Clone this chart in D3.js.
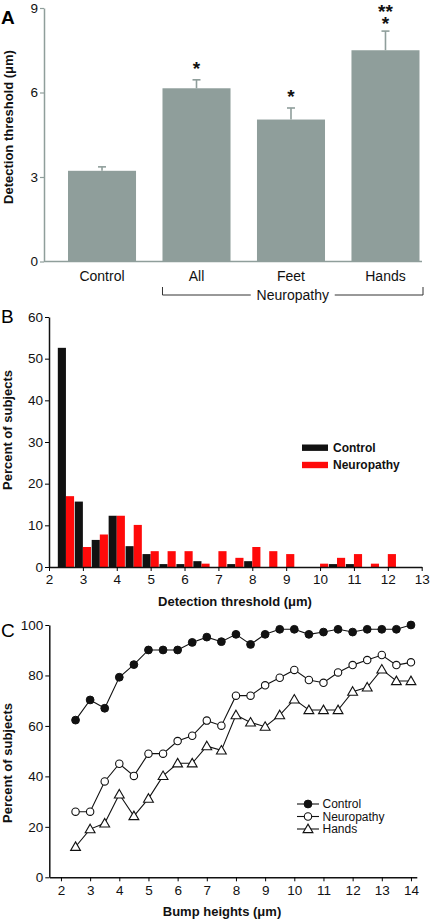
<!DOCTYPE html>
<html><head><meta charset="utf-8">
<script src="https://cdn.jsdelivr.net/npm/d3@7"></script>
<style>
html,body{margin:0;padding:0;background:#fff;}
svg{display:block;font-family:"Liberation Sans",Arial,sans-serif;}
</style></head>
<body><svg id="c" width="430" height="919"></svg>
<script>
// ---------- Panel A data ----------
const catsA = ["Control","All","Feet","Hands"];
const meanA = [3.22, 6.15, 5.04, 7.5];
const errTopA = [3.36, 6.45, 5.45, 8.18];
const starsA = [[], ["*"], ["*"], ["*","**"]];
const groupLabelA = "Neuropathy";
const ticksA = [0,3,6,9];

// ---------- Panel B data ----------
const binsB = [2.5,3,3.5,4,4.5,5,5.5,6,6.5,7,7.5,8,8.5,9,9.5,10,10.5,11,11.5,12];
const controlB = [52.6,15.7,6.5,12.3,5.0,3.1,0.7,0.7,1.4,0,0.7,1.4,0,0,0,0,0.7,0.7,0,0];
const neuroB   = [17.0,4.8,7.8,12.3,10.1,3.8,3.8,3.8,0.8,3.8,2.2,4.8,3.8,3.1,0,0.8,2.2,3.1,0.8,3.1];
const seriesB = ["Control","Neuropathy"];
const ticksBx = [2,3,4,5,6,7,8,9,10,11,12,13];
const ticksBy = [0,10,20,30,40,50,60];

// ---------- Panel C data ----------
const bumpC = [2.5,3,3.5,4,4.5,5,5.5,6,6.5,7,7.5,8,8.5,9,9.5,10,10.5,11,11.5,12,12.5,13,13.5,14];
const controlC = [62.3,70.3,67.0,79.3,84.3,90.1,90.1,90.1,93.1,95.2,93.4,96.3,92.3,96.3,98.3,98.3,96.3,97.2,98.3,97.2,98.3,98.3,98.3,100];
const neuroC   = [26.0,26.0,38.0,45.0,40.2,49.0,49.0,54.0,56.1,62.1,60.1,72.0,72.0,76.1,79.1,82.2,78.2,77.1,81.2,84.1,86.1,88.1,84.1,85.2];
const handsC   = [12.1,19.1,21.4,32.9,24.3,31.2,40.2,45.2,45.2,52.0,50.3,64.3,61.4,59.7,64.3,70.5,66.3,66.3,66.3,73.6,75.3,82.4,77.8,77.8];
const seriesC = ["Control","Neuropathy","Hands"];
const ticksCx = [2,3,4,5,6,7,8,9,10,11,12,13,14];
const ticksCy = [0,20,40,60,80,100];

const svg = d3.select("#c");
const GREY = "#8f9e9b";
const RED = "#ff0a0a";

// ===================== PANEL A =====================
const gA = svg.append("g");
const yA = d3.scaleLinear().domain([0,9]).range([261.5, 8]);
const xA = d3.scaleBand().domain(catsA).range([68, 419.5]).paddingInner(0.28).paddingOuter(0);

gA.append("g").attr("transform","translate(44,0)")
  .call(d3.axisLeft(yA).tickValues(ticksA).tickSize(4).tickSizeOuter(0).tickPadding(2))
  .call(g=>{g.select(".domain").attr("stroke",GREY).attr("stroke-width",1.5);
            g.selectAll(".tick line").attr("stroke",GREY).attr("stroke-width",1.2);
            g.selectAll("text").attr("font-size",13.5).attr("fill","#111").attr("font-family","Liberation Sans, Arial");});
// x baseline
gA.append("line").attr("x1",44).attr("x2",422).attr("y1",yA(0)).attr("y2",yA(0))
  .attr("stroke",GREY).attr("stroke-width",1.5);

gA.selectAll("rect.bar").data(catsA).join("rect").attr("class","bar")
  .attr("x",d=>xA(d)).attr("width",xA.bandwidth())
  .attr("y",(d,i)=>yA(meanA[i])).attr("height",(d,i)=>yA(0)-yA(meanA[i]))
  .attr("fill",GREY);
// error bars
catsA.forEach((c,i)=>{
  const cx = xA(c)+xA.bandwidth()/2;
  gA.append("line").attr("x1",cx).attr("x2",cx).attr("y1",yA(meanA[i])).attr("y2",yA(errTopA[i]))
    .attr("stroke",GREY).attr("stroke-width",1.6);
  gA.append("line").attr("x1",cx-4).attr("x2",cx+4).attr("y1",yA(errTopA[i])).attr("y2",yA(errTopA[i]))
    .attr("stroke",GREY).attr("stroke-width",1.6);
  if (starsA[i].length) {
    const t = gA.append("text").attr("text-anchor","middle").attr("font-size",19)
      .attr("font-weight","bold").attr("fill","#111");
    const base = yA(errTopA[i]) - (starsA[i].length > 1 ? 1.5 : 5);
    starsA[i].slice().reverse().forEach((s,k,arr)=>{
      t.append("tspan").attr("x",cx).attr("y",base - (arr.length-1-k)*11.5).text(s);
    });
  }
  gA.append("text").attr("x",cx).attr("y",281).attr("text-anchor","middle")
    .attr("font-size",14).attr("fill","#111").text(c);
});
// bracket
const bx1 = xA("All"), bx2 = 423, by = 295;
const bmid = (bx1+bx2)/2;
gA.append("path").attr("d",`M${bx1},${by-8}V${by}H${bmid-42}M${bmid+42},${by}H${bx2}V${by-8}`)
  .attr("fill","none").attr("stroke","#333").attr("stroke-width",1);
gA.append("text").attr("x",bmid).attr("y",by+5).attr("text-anchor","middle")
  .attr("font-size",14).attr("fill","#111").text(groupLabelA);
gA.append("text").attr("transform",`translate(13,127) rotate(-90)`).attr("text-anchor","middle")
  .attr("font-size",13).attr("font-weight","bold").attr("fill","#111").text("Detection threshold (μm)");
svg.append("text").attr("x",1).attr("y",24).attr("font-size",19).attr("font-weight","bold").text("A");

// ===================== PANEL B =====================
const gB = svg.append("g");
const xB = d3.scaleLinear().domain([2,13]).range([49, 421.7]);
const yB = d3.scaleLinear().domain([0,60]).range([567, 317]);
const bw = 0.24;
gB.selectAll("rect.c").data(binsB).join("rect").attr("class","c")
  .attr("x",d=>xB(d-bw)).attr("width",d=>xB(d)-xB(d-bw))
  .attr("y",(d,i)=>yB(controlB[i])).attr("height",(d,i)=>yB(0)-yB(controlB[i]))
  .attr("fill","#111");
gB.selectAll("rect.n").data(binsB).join("rect").attr("class","n")
  .attr("x",d=>xB(d)).attr("width",d=>xB(d+bw)-xB(d))
  .attr("y",(d,i)=>yB(neuroB[i])).attr("height",(d,i)=>yB(0)-yB(neuroB[i]))
  .attr("fill",RED);
gB.append("g").attr("transform",`translate(0,${yB(0)})`)
  .call(d3.axisBottom(xB).tickValues(ticksBx).tickSize(4).tickSizeOuter(0).tickPadding(3))
  .call(g=>{g.select(".domain").attr("stroke","#111").attr("stroke-width",1.5);
            g.selectAll("text").attr("font-size",13.5).attr("fill","#111").attr("font-family","Liberation Sans, Arial");});
gB.append("g").attr("transform",`translate(49,0)`)
  .call(d3.axisLeft(yB).tickValues(ticksBy).tickSize(4).tickSizeOuter(0).tickPadding(2))
  .call(g=>{g.select(".domain").attr("stroke","#111").attr("stroke-width",1.5);
            g.selectAll("text").attr("font-size",13.5).attr("fill","#111").attr("font-family","Liberation Sans, Arial");});
gB.append("text").attr("x",235).attr("y",606).attr("text-anchor","middle")
  .attr("font-size",13).attr("font-weight","bold").attr("fill","#111").text("Detection threshold (μm)");
gB.append("text").attr("transform",`translate(12,430) rotate(-90)`).attr("text-anchor","middle")
  .attr("font-size",13).attr("font-weight","bold").attr("fill","#111").text("Percent of subjects");
svg.append("text").attr("x",1).attr("y",323).attr("font-size",19).text("B");
// legend B
const legColB = ["#111", RED];
seriesB.forEach((s,i)=>{
  const ly = 447.7 + i*17.3;
  gB.append("rect").attr("x",302).attr("y",ly-3.2).attr("width",26).attr("height",6.4).attr("fill",legColB[i]);
  gB.append("text").attr("x",333).attr("y",ly+4.3).attr("font-size",12).attr("font-weight","bold").attr("fill","#111").text(s);
});

// ===================== PANEL C =====================
const gC = svg.append("g");
const xC = d3.scaleLinear().domain([1.6,14.2]).range([49.3,416.8]);
const yC = d3.scaleLinear().domain([0,100]).range([877.3, 625]);
gC.append("g").attr("transform",`translate(0,${yC(0)})`)
  .call(d3.axisBottom(xC).tickValues(ticksCx).tickSize(4).tickSizeOuter(0).tickPadding(4))
  .call(g=>{g.select(".domain").attr("stroke","#111").attr("stroke-width",1.5);
            g.selectAll("text").attr("font-size",13.5).attr("fill","#111").attr("font-family","Liberation Sans, Arial");});
gC.append("g").attr("transform",`translate(49.3,0)`)
  .call(d3.axisLeft(yC).tickValues(ticksCy).tickSize(4).tickSizeOuter(0).tickPadding(2))
  .call(g=>{g.select(".domain").attr("stroke","#111").attr("stroke-width",1.5);
            g.selectAll("text").attr("font-size",13.5).attr("fill","#111").attr("font-family","Liberation Sans, Arial");});

const line = vals => d3.line().x((d,i)=>xC(bumpC[i])).y(d=>yC(d))(vals);
const seriesValsC = [controlC, neuroC, handsC];
const tri = d3.symbol().type(d3.symbolTriangle).size(42);
function marker(g, kind, x, y){
  if(kind===0) g.append("circle").attr("cx",x).attr("cy",y).attr("r",3.9).attr("fill","#111").attr("stroke","#111");
  else if(kind===1) g.append("circle").attr("cx",x).attr("cy",y).attr("r",3.7).attr("fill","#fff").attr("stroke","#111").attr("stroke-width",1.1);
  else g.append("path").attr("d",tri()).attr("transform",`translate(${x},${y+0.8})`).attr("fill","#fff").attr("stroke","#111").attr("stroke-width",1.1);
}
seriesValsC.forEach((vals,k)=>{
  gC.append("path").attr("d",line(vals)).attr("fill","none").attr("stroke","#111").attr("stroke-width",1.1);
});
seriesValsC.forEach((vals,k)=>{
  vals.forEach((v,i)=>marker(gC,k,xC(bumpC[i]),yC(v)));
});
gC.append("text").attr("x",222).attr("y",916).attr("text-anchor","middle")
  .attr("font-size",13).attr("font-weight","bold").attr("fill","#111").text("Bump heights (μm)");
gC.append("text").attr("transform",`translate(12,763) rotate(-90)`).attr("text-anchor","middle")
  .attr("font-size",13).attr("font-weight","bold").attr("fill","#111").text("Percent of subjects");
svg.append("text").attr("x",1).attr("y",637).attr("font-size",19).text("C");
// legend C
seriesC.forEach((s,k)=>{
  const ly = 804 + k*12.5;
  gC.append("line").attr("x1",297).attr("x2",319).attr("y1",ly).attr("y2",ly).attr("stroke","#111").attr("stroke-width",1.1);
  marker(gC,k,308,ly);
  gC.append("text").attr("x",322.5).attr("y",ly+4.3).attr("font-size",12).attr("fill","#111").text(s);
});
</script></body></html>
